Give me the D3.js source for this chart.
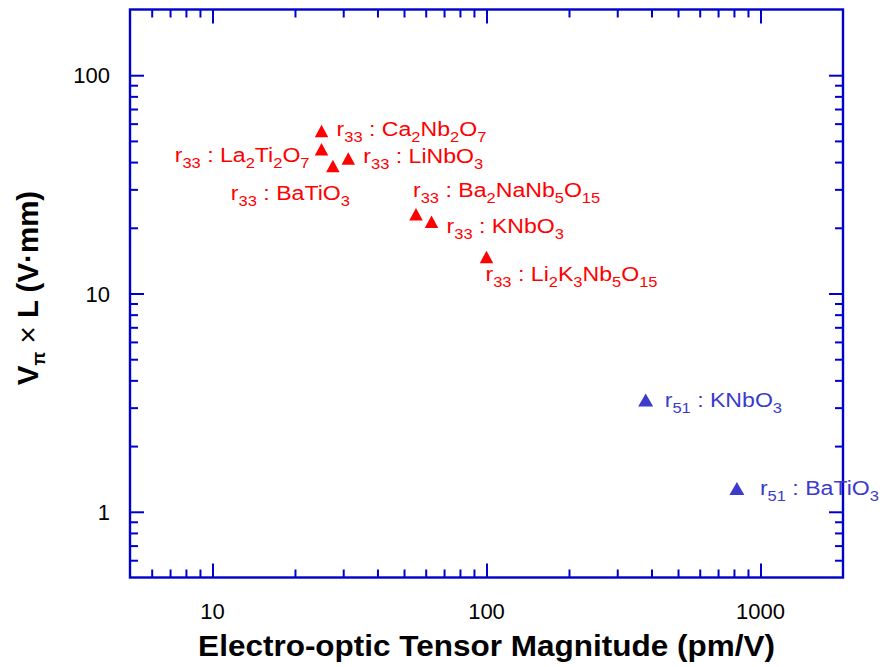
<!DOCTYPE html>
<html>
<head>
<meta charset="utf-8">
<script src="https://cdn.jsdelivr.net/npm/d3@7"></script>
<style>
  body { margin: 0; background: #fff; }
  svg text { font-family: "Liberation Sans", Arial, sans-serif; }
</style>
</head>
<body>
<div id="chart"></div>
<script>
(function () {

  // Data
  const materials = ["r_33 : Ca_2Nb_2O_7", "r_33 : La_2Ti_2O_7", "r_33 : BaTiO_3", "r_33 : LiNbO_3",
    "r_33 : Ba_2NaNb_5O_15", "r_33 : KNbO_3", "r_33 : Li_2K_3Nb_5O_15", "r_51 : KNbO_3", "r_51 : BaTiO_3"]
  const tensor = [25, 25, 27.5, 31.3, 55.3, 63, 100, 381, 820]
  const vpiL = [55.5, 45.8, 38.4, 41.5, 23.1, 21.3, 14.7, 3.25, 1.28]
  const coefficient = ["r33", "r33", "r33", "r33", "r33", "r33", "r33", "r51", "r51"]

  const xMajor = [10, 100, 1000]
  const xMinor = [6, 7, 8, 9, 20, 30, 40, 50, 60, 70, 80, 90, 200, 300, 400, 500, 600, 700, 800, 900]
  const yMajor = [1, 10, 100]
  const yMinor = [0.6, 0.7, 0.8, 0.9, 2, 3, 4, 5, 6, 7, 8, 9, 20, 30, 40, 50, 60, 70, 80, 90]

  // label placement relative to each triangle: [dx, dy, anchor]
  const labelPlace = [[15, 5, "start"], [-12, 13, "end"], [-102, 34, "start"], [15, 4, "start"],
    [-3, -17, "start"], [15, 11, "start"], [-1, 24, "start"], [19, 7, "start"], [23, 7, "start"]]

  const points = materials.map((m, i) => ({ label: m, x: tensor[i], y: vpiL[i], coef: coefficient[i] }))

  // Margin convention
  const margin = { top: 9.5, right: 40, bottom: 89.5, left: 130 }
  const width = 883 - margin.left - margin.right
  const height = 667 - margin.top - margin.bottom

  const svg = d3.select("#chart").append("svg")
      .attr("width", 883)
      .attr("height", 667)
      .append("g")
      .attr("transform", "translate(" + margin.left + "," + margin.top + ")")

  const xScale = d3.scaleLog().domain([5, 2000]).range([0, width])
  const yScale = d3.scaleLog().domain([0.5, 200]).range([height, 0])

  const colorScale = d3.scaleOrdinal().domain(["r33", "r51"]).range(["#ff0000", "#3b3bcc"])
  const axisColor = "#0000cc"

  // Axes, ticks pointing inward on all four sides
  function drawAxis(gen, transform) {
    const g = svg.append("g").attr("transform", transform).call(gen)
    g.select(".domain").remove()
    g.selectAll(".tick line").attr("stroke", axisColor).attr("stroke-width", 2)
    return g
  }
  drawAxis(d3.axisBottom(xScale).tickValues(xMajor).tickSize(-14).tickFormat(""), "translate(0," + height + ")")
  drawAxis(d3.axisBottom(xScale).tickValues(xMinor).tickSize(-8).tickFormat(""), "translate(0," + height + ")")
  drawAxis(d3.axisTop(xScale).tickValues(xMajor).tickSize(-14).tickFormat(""), "translate(0,0)")
  drawAxis(d3.axisTop(xScale).tickValues(xMinor).tickSize(-8).tickFormat(""), "translate(0,0)")
  drawAxis(d3.axisLeft(yScale).tickValues(yMajor).tickSize(-14).tickFormat(""), "translate(0,0)")
  drawAxis(d3.axisLeft(yScale).tickValues(yMinor).tickSize(-8).tickFormat(""), "translate(0,0)")
  drawAxis(d3.axisRight(yScale).tickValues(yMajor).tickSize(-14).tickFormat(""), "translate(" + width + ",0)")
  drawAxis(d3.axisRight(yScale).tickValues(yMinor).tickSize(-8).tickFormat(""), "translate(" + width + ",0)")

  svg.append("rect")
    .attr("width", width)
    .attr("height", height)
    .attr("fill", "none")
    .attr("stroke", axisColor)
    .attr("stroke-width", 2.4)

  // Tick labels
  svg.selectAll(".xlab")
    .data(xMajor)
    .join("text")
    .attr("class", "xlab")
    .attr("x", d => xScale(d))
    .attr("y", height + 41)
    .attr("text-anchor", "middle")
    .attr("font-size", 22)
    .text(d => d)

  svg.selectAll(".ylab")
    .data(yMajor)
    .join("text")
    .attr("class", "ylab")
    .attr("x", -20)
    .attr("y", d => yScale(d) + 8)
    .attr("text-anchor", "end")
    .attr("font-size", 22)
    .text(d => d)

  // Axis titles
  svg.append("text")
    .attr("transform", "translate(" + (width / 2) + "," + (height + 78) + ") scale(1.05,1)")
    .attr("text-anchor", "middle")
    .attr("font-size", 30)
    .attr("font-weight", "bold")
    .text("Electro-optic Tensor Magnitude (pm/V)")

  const yTitle = svg.append("text")
    .attr("transform", "translate(" + (38 - margin.left) + "," + (288 - margin.top) + ") rotate(-90)")
    .attr("text-anchor", "middle")
    .attr("font-size", 29.5)
    .attr("font-weight", "bold")
  yTitle.append("tspan").text("V")
  yTitle.append("tspan").attr("font-size", 18).attr("dy", 7).text("\u03c0")
  yTitle.append("tspan").attr("dy", -7).attr("font-weight", "normal").text(" \u00d7 ")
  yTitle.append("tspan").text("L (V\u00b7mm)")

  // Triangles
  const tri = (w, h) => {
    const p = d3.path()
    p.moveTo(0, -h / 2)
    p.lineTo(w / 2, h / 2)
    p.lineTo(-w / 2, h / 2)
    p.closePath()
    return p.toString()
  }

  svg.selectAll(".pt")
    .data(points)
    .join("path")
    .attr("class", "pt")
    .attr("d", d => d.coef === "r51" ? tri(15, 13) : tri(13.5, 12.5))
    .attr("transform", d => "translate(" + xScale(d.x) + "," + yScale(d.y) + ")")
    .attr("fill", d => colorScale(d.coef))

  // Labels with subscripts ("_" followed by digits)
  const labels = svg.selectAll(".plabel")
    .data(points)
    .join("text")
    .attr("class", "plabel")
    .attr("transform", (d, i) => "translate(" + (xScale(d.x) + labelPlace[i][0]) + "," + (yScale(d.y) + labelPlace[i][1]) + ") scale(1.1,1)")
    .attr("text-anchor", (d, i) => labelPlace[i][2])
    .attr("font-size", 21)
    .attr("fill", d => colorScale(d.coef))

  labels.each(function (d) {
    const t = d3.select(this)
    const parts = d.label.split(/(_\d+)/).filter(s => s.length)
    let sub = false
    parts.forEach(s => {
      if (s[0] === "_") {
        t.append("tspan").attr("font-size", 15).attr("dy", sub ? 0 : 6).text(s.slice(1))
        sub = true
      } else {
        t.append("tspan").attr("dy", sub ? -6 : 0).text(s).style("white-space", "pre")
        sub = false
      }
    })
  })

})();
</script>
</body>
</html>
